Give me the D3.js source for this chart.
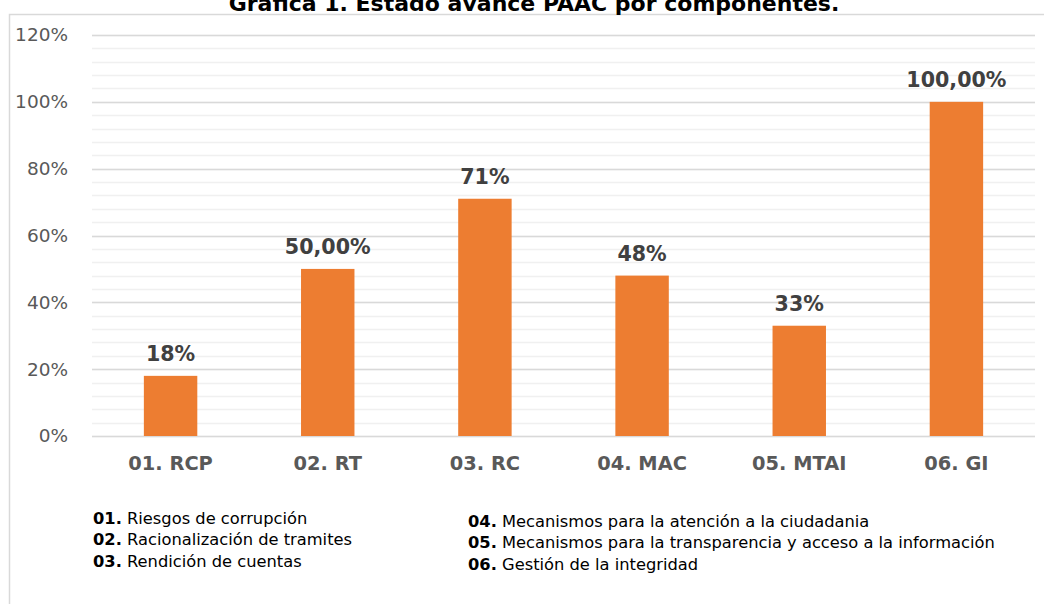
<!DOCTYPE html>
<html>
<head>
<meta charset="utf-8">
<script src="https://cdn.jsdelivr.net/npm/d3@7"></script>
<style>
  body { margin: 0; background: #fff; }
  svg { display: block; font-family: "DejaVu Sans", Verdana, sans-serif; }
</style>
</head>
<body>
<div id="chart"></div>
<script>
// categories and values (fractions)
const categories = ["01. RCP", "02. RT", "03. RC", "04. MAC", "05. MTAI", "06. GI"];
const values = [0.18, 0.50, 0.71, 0.48, 0.33, 1.00];
const valueLabels = ["18%", "50,00%", "71%", "48%", "33%", "100,00%"];
const yTicks = [0, 0.2, 0.4, 0.6, 0.8, 1.0, 1.2];
const legendCodes = ["01.", "02.", "03.", "04.", "05.", "06."];
const legendNames = [
    "Riesgos de corrupción",
    "Racionalización de tramites",
    "Rendición de cuentas",
    "Mecanismos para la atención a la ciudadania",
    "Mecanismos para la transparencia y acceso a la información",
    "Gestión de la integridad"
];

const width = 1044, height = 604;
const margin = {top: 35, right: 9, bottom: 168, left: 92};

const svg = d3.select("#chart").append("svg")
    .attr("width", width)
    .attr("height", height);

// outer chart frame (only top and left edges are in view)
svg.append("path")
    .attr("d", "M9.5," + height + "V14.5H" + width)
    .attr("fill", "none")
    .attr("stroke", "#d9d9d9")
    .attr("stroke-width", 1.5);

// title, partly cut off by the top edge as in the source
svg.append("text")
    .attr("x", 534)
    .attr("y", 11)
    .attr("text-anchor", "middle")
    .style("font-size", "22px")
    .style("font-weight", "bold")
    .style("fill", "#000")
    .text("Gráfica 1. Estado avance PAAC por componentes.");

const x = d3.scaleBand()
    .domain(categories)
    .range([margin.left, width - margin.right])
    .paddingInner(0.66)
    .paddingOuter(0.33);

const y = d3.scaleLinear()
    .domain([0, 1.2])
    .range([height - margin.bottom, margin.top]);

// minor gridlines
const minor = d3.range(0, 1.2001, 0.04);
svg.append("g").selectAll("line")
    .data(minor)
    .enter().append("line")
    .attr("x1", margin.left)
    .attr("x2", width - margin.right)
    .attr("y1", d => Math.round(y(d)) + 0.5)
    .attr("y2", d => Math.round(y(d)) + 0.5)
    .attr("stroke", "#f0f0f0")
    .attr("stroke-width", 1.5);

// major gridlines
svg.append("g").selectAll("line")
    .data(yTicks)
    .enter().append("line")
    .attr("x1", margin.left)
    .attr("x2", width - margin.right)
    .attr("y1", d => Math.round(y(d)) + 0.5)
    .attr("y2", d => Math.round(y(d)) + 0.5)
    .attr("stroke", "#d9d9d9")
    .attr("stroke-width", 1.5);

// y axis labels
const yAxis = d3.axisLeft(y)
    .tickValues(yTicks)
    .tickFormat(d => Math.round(d * 100) + "%")
    .tickSize(0)
    .tickPadding(24);
const gy = svg.append("g")
    .attr("transform", "translate(" + margin.left + ",0)")
    .call(yAxis);
gy.select(".domain").remove();
gy.selectAll("text")
    .style("font-family", "DejaVu Sans, sans-serif")
    .style("font-size", "18.5px")
    .style("fill", "#595959");

// bars
svg.append("g").selectAll("rect")
    .data(values)
    .enter().append("rect")
    .attr("x", (d, i) => x(categories[i]))
    .attr("width", x.bandwidth())
    .attr("y", d => y(d))
    .attr("height", d => y(0) - y(d))
    .attr("fill", "#ed7d31");

// data labels
svg.append("g").selectAll("text")
    .data(values)
    .enter().append("text")
    .attr("x", (d, i) => x(categories[i]) + x.bandwidth() / 2)
    .attr("y", d => y(d) - 15)
    .attr("text-anchor", "middle")
    .style("font-size", "20.6px")
    .style("font-weight", "bold")
    .style("fill", "#404040")
    .text((d, i) => valueLabels[i]);

// x axis labels
const xAxis = d3.axisBottom(x).tickSize(0).tickPadding(20);
const gx = svg.append("g")
    .attr("transform", "translate(0," + y(0) + ")")
    .call(xAxis);
gx.select(".domain").remove();
gx.selectAll("text")
    .style("font-family", "DejaVu Sans, sans-serif")
    .style("font-size", "19.4px")
    .style("font-weight", "bold")
    .style("fill", "#595959");

// legend of component codes
const legendPos = [
    [93, 524], [93, 545], [93, 567],
    [468, 527], [468, 548], [468, 570]
];
const legend = svg.append("g").selectAll("text")
    .data(legendNames)
    .enter().append("text")
    .attr("x", (d, i) => legendPos[i][0])
    .attr("y", (d, i) => legendPos[i][1])
    .style("font-size", "16.3px")
    .style("fill", "#000");
legend.append("tspan")
    .style("font-weight", "bold")
    .text((d, i) => legendCodes[i]);
legend.append("tspan")
    .text(d => " " + d);
</script>
</body>
</html>
